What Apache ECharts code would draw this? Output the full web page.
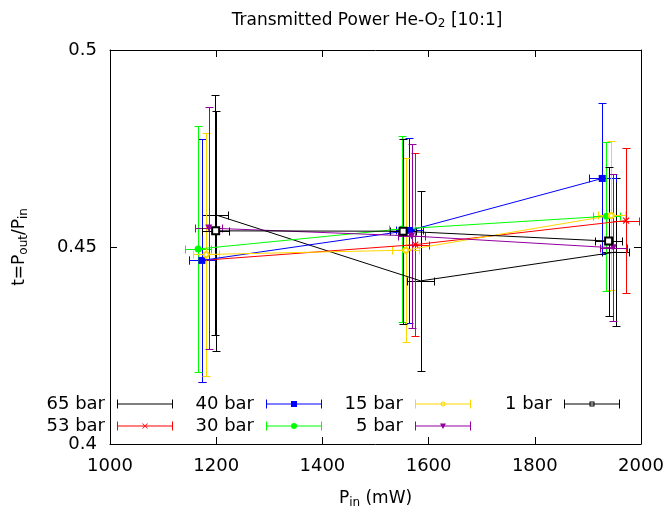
<!DOCTYPE html>
<html>
<head>
<meta charset="utf-8">
<script src="https://cdn.jsdelivr.net/npm/echarts@6/dist/echarts.min.js"></script>
<style>
  html, body { margin: 0; padding: 0; background: #fff; }
  #chart { width: 669px; height: 511px; }
</style>
</head>
<body>
<div id="chart"></div>
<script>
// each row: [P_in (mW), t, dP, dt]
const bar65 = [[1198, 0.4582, 25, 0.0305], [1585, 0.4414, 25, 0.0228], [1952, 0.4487, 25, 0.0187]];
const bar53 = [[1173, 0.4466, 25, 0.0309], [1575, 0.4506, 25, 0.0232], [1972, 0.4567, 25, 0.0185]];
const bar40 = [[1173, 0.4466, 25, 0.0309], [1564, 0.4542, 25, 0.0234], [1927, 0.4674, 25, 0.0192]];
const bar30 = [[1166, 0.4495, 25, 0.0312], [1550, 0.4546, 25, 0.0236], [1935, 0.4578, 25, 0.0189]];
const bar15 = [[1181, 0.4481, 25, 0.0308], [1557, 0.4492, 25, 0.0234], [1944, 0.4580, 25, 0.0189]];
const bar5 = [[1186, 0.4548, 25, 0.0308], [1568, 0.4528, 25, 0.0233], [1948, 0.4498, 25, 0.0187]];
const bar1 = [[1199, 0.4541, 25, 0.0304], [1552, 0.4540, 25, 0.0235], [1939, 0.4515, 25, 0.0189]];

const xTicks = [1000, 1200, 1400, 1600, 1800, 2000];
const yTicks = [0.4, 0.45, 0.5];

const FONT = 'DejaVu Sans';

// series look, in gnuplot drawing order
const looks = [
  { name: '65 bar', data: bar65, color: '#000000', symbol: 'none', size: 0, mark: '' },
  { name: '53 bar', data: bar53, color: '#ff0000', symbol: 'path://M0,0L1,1M1,0L0,1', size: 6, mark: 'x' },
  { name: '40 bar', data: bar40, color: '#0000ff', symbol: 'rect', size: 7, mark: 'square' },
  { name: '30 bar', data: bar30, color: '#00ff00', symbol: 'circle', size: 7, mark: 'circle' },
  { name: '15 bar', data: bar15, color: '#ffd700', symbol: 'emptyCircle', size: 5, mark: 'ocircle' },
  { name: '5 bar', data: bar5, color: '#9400a0', symbol: 'triangle', size: 7, mark: 'tri' },
  { name: '1 bar', data: bar1, color: '#000000', symbol: 'emptyRect', size: 7, mark: 'osquare' }
];

// legend sample: line with end caps plus the point shape
function legendIcon(mark) {
  let p = 'path://M0,4L56,4L56,5L0,5Z M0,0L1,0L1,9L0,9Z M55,0L56,0L56,9L55,9Z';
  if (mark === 'x') p += ' M25,2L26,2L31,7L30,7Z M30,2L31,2L26,7L25,7Z';
  if (mark === 'square') p += ' M25,1.5L31,1.5L31,7.5L25,7.5Z';
  if (mark === 'circle') p += ' M25,4.5A3,3 0 1 1 31,4.5A3,3 0 1 1 25,4.5Z';
  if (mark === 'ocircle') p += ' M25.5,4.5A2.5,2.5 0 1 1 30.5,4.5A2.5,2.5 0 1 1 25.5,4.5Z M26.5,4.5A1.5,1.5 0 1 0 29.5,4.5A1.5,1.5 0 1 0 26.5,4.5Z';
  if (mark === 'tri') p += ' M25,2L31,2L28,7.5Z';
  if (mark === 'osquare') p += ' M25.5,2L30.5,2L30.5,7L25.5,7Z M26.5,3L26.5,6L29.5,6L29.5,3Z';
  return p;
}

// legend cell positions: [right edge of sample, row]
const legendCells = [[173, 0], [173, 1], [322, 0], [322, 1], [471, 0], [471, 1], [620, 0]];
const rowTop = [395, 417];

function errorBars(params, api) {
  const x = api.value(0), y = api.value(1), dx = api.value(2), dy = api.value(3);
  const c = api.coord([x, y]);
  const top = api.coord([x, y + dy]);
  const bot = api.coord([x, y - dy]);
  const lft = api.coord([x - dx, y]);
  const rgt = api.coord([x + dx, y]);
  const color = api.visual('color');
  const st = { stroke: color, lineWidth: 1 };
  const cap = 4;
  const r = v => Math.round(v) + 0.5;
  const cx = r(c[0]), cy = r(c[1]);
  const ln = (x1, y1, x2, y2) => ({ type: 'line', shape: { x1, y1, x2, y2 }, style: st, silent: true });
  return {
    type: 'group',
    children: [
      ln(cx, r(top[1]), cx, r(bot[1])),
      ln(cx - cap, r(top[1]), cx + cap, r(top[1])),
      ln(cx - cap, r(bot[1]), cx + cap, r(bot[1])),
      ln(r(lft[0]), cy, r(rgt[0]), cy),
      ln(r(lft[0]), cy - cap, r(lft[0]), cy + cap),
      ln(r(rgt[0]), cy - cap, r(rgt[0]), cy + cap)
    ]
  };
}

const series = [];
looks.forEach(s => {
  series.push({
    name: s.name,
    type: 'custom',
    renderItem: errorBars,
    itemStyle: { color: s.color },
    data: s.data,
    encode: { x: 0, y: 1 },
    silent: true
  });
  series.push({
    name: s.name,
    type: 'line',
    data: s.data.map(d => [d[0], d[1]]),
    symbol: s.symbol,
    symbolSize: s.size,
    symbolRotate: s.mark === 'tri' ? 180 : 0,
    showSymbol: s.symbol !== 'none',
    lineStyle: { color: s.color, width: 1 },
    itemStyle: s.mark === 'x'
      ? { color: s.color, borderColor: s.color, borderWidth: 1.2 }
      : { color: s.color, borderColor: s.color, borderWidth: s.mark.startsWith('o') ? 0.8 : 0 },
    silent: true,
    emphasis: { disabled: true }
  });
});

const legends = looks.map((s, i) => ({
  data: [{ name: s.name, icon: legendIcon(s.mark) }],
  right: 669 - legendCells[i][0],
  top: rowTop[legendCells[i][1]],
  align: 'right',
  padding: 0,
  itemWidth: 56,
  itemHeight: 9,
  selectedMode: false,
  itemStyle: { borderWidth: 0 },
  textStyle: { fontFamily: FONT, fontSize: 18, color: '#000', padding: [0, 7, 0, 0] }
}));

const frameAxis = {
  axisLine: { show: true, lineStyle: { color: '#000', width: 1 } },
  axisTick: { show: true, inside: true, length: 7, lineStyle: { color: '#000' } },
  splitLine: { show: false }
};

const chart = echarts.init(document.getElementById('chart'), null, { renderer: 'canvas' });
chart.setOption({
  animation: false,
  backgroundColor: '#fff',
  title: {
    text: 'Transmitted Power He-O{sub|2} [10:1]',
    left: 362,
    top: 6,
    textAlign: 'center',
    textStyle: {
      fontFamily: FONT, fontSize: 17, fontWeight: 'normal', color: '#000',
      rich: { sub: { fontFamily: FONT, fontSize: 12, verticalAlign: 'bottom', padding: [7, 0, 0, 0] } }
    }
  },
  legend: legends,
  grid: { left: 110, right: 28, top: 50, bottom: 67, outerBoundsMode: 'none', containLabel: false },
  xAxis: [
    Object.assign({
      type: 'value', min: xTicks[0], max: xTicks[xTicks.length - 1], interval: 200, position: 'bottom',
      name: 'P{sub|in} (mW)', nameLocation: 'middle', nameGap: 44,
      nameTextStyle: {
        fontFamily: FONT, fontSize: 17, color: '#000',
        rich: { sub: { fontFamily: FONT, fontSize: 12, padding: [9, 0, 0, 0] } }
      },
      axisLabel: { fontFamily: FONT, fontSize: 18, color: '#000', margin: 13, formatter: v => String(v) }
    }, frameAxis),
    Object.assign({
      type: 'value', min: xTicks[0], max: xTicks[xTicks.length - 1], interval: 200, position: 'top',
      axisLabel: { show: false }
    }, frameAxis)
  ],
  yAxis: [
    Object.assign({
      type: 'value', min: yTicks[0], max: yTicks[yTicks.length - 1], interval: 0.05, position: 'left',
      name: 't=P{sub|out}/P{sub|in}', nameLocation: 'middle', nameGap: 80, nameRotate: 90,
      nameTextStyle: {
        fontFamily: FONT, fontSize: 17, color: '#000',
        rich: { sub: { fontFamily: FONT, fontSize: 12, padding: [9, 0, 0, 0] } }
      },
      axisLabel: { fontFamily: FONT, fontSize: 18, color: '#000', margin: 13, formatter: v => String(v) }
    }, frameAxis),
    Object.assign({
      type: 'value', min: yTicks[0], max: yTicks[yTicks.length - 1], interval: 0.05, position: 'right',
      axisLabel: { show: false }
    }, frameAxis)
  ],
  series: series
});
</script>
</body>
</html>
